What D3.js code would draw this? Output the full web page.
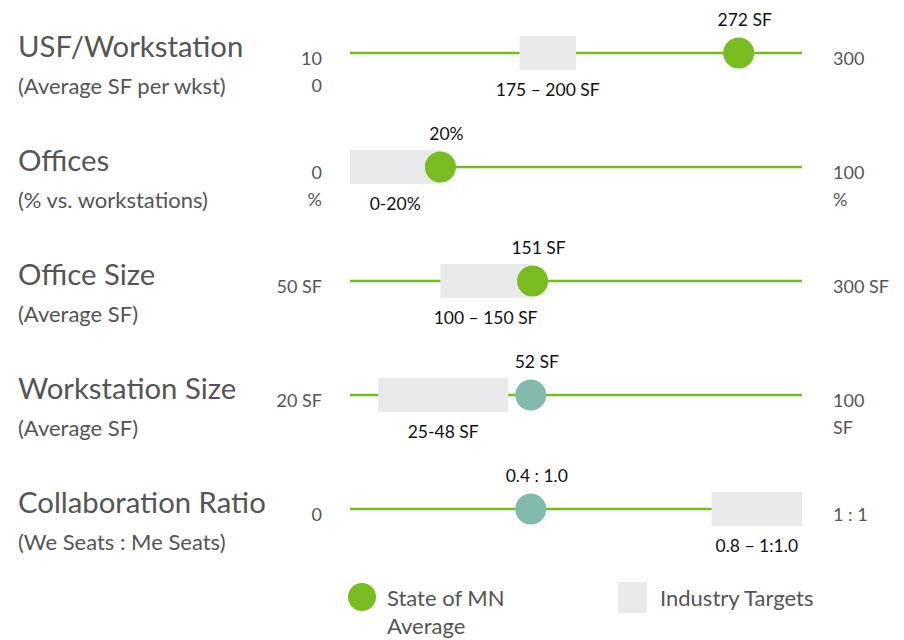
<!DOCTYPE html>
<html>
<head>
<meta charset="utf-8">
<script src="https://cdn.jsdelivr.net/npm/d3@7"></script>
<style>
  html, body { margin: 0; padding: 0; background: #fff; }
  svg { display: block; font-family: Lato, "Open Sans", sans-serif; }
</style>
</head>
<body>
<svg id="chart" width="904" height="640"></svg>
<script>
// ---- data ----
const metrics = ["USF/Workstation", "Offices", "Office Size", "Workstation Size", "Collaboration Ratio"];
const subtitles = ["(Average SF per wkst)", "(% vs. workstations)", "(Average SF)", "(Average SF)", "(We Seats : Me Seats)"];
const axisMin = [100, 0, 50, 20, 0];
const axisMax = [300, 100, 300, 100, 1];
const minLabels = [["10", "0"], ["0", "%"], ["50 SF"], ["20 SF"], ["0"]];
const maxLabels = [["300"], ["100", "%"], ["300 SF"], ["100", "SF"], ["1 : 1"]];
const stateValues = [272, 20, 151, 52, 0.4];
const stateLabels = ["272 SF", "20%", "151 SF", "52 SF", "0.4 : 1.0"];
const targetLow = [175, 0, 100, 25, 0.8];
const targetHigh = [200, 20, 150, 48, 1.0];
const targetLabels = ["175 – 200 SF", "0-20%", "100 – 150 SF", "25-48 SF", "0.8 – 1:1.0"];
const legendLabels = [["State of MN", "Average"], ["Industry Targets"]];

// ---- styles ----
const GREEN = "#78bc22";
const TEAL = "#82bbad";
const BAND = "#e8e9eb";
const dotColors = [GREEN, GREEN, GREEN, TEAL, TEAL];

const svg = d3.select("#chart");

const y = d3.scalePoint().domain(metrics).range([53, 509]);
const xRange = [350, 802];

const rows = metrics.map((m, i) => ({
  metric: m, sub: subtitles[i], min: axisMin[i], max: axisMax[i],
  minL: minLabels[i], maxL: maxLabels[i], v: stateValues[i], vL: stateLabels[i],
  lo: targetLow[i], hi: targetHigh[i], tL: targetLabels[i], color: dotColors[i],
  x: d3.scaleLinear().domain([axisMin[i], axisMax[i]]).range(xRange)
}));

const g = svg.selectAll("g.row").data(rows).join("g")
  .attr("class", "row")
  .attr("transform", d => `translate(0,${y(d.metric)})`);

// titles
g.append("text").attr("x", 18).attr("y", 4)
  .attr("font-size", 29.3).attr("fill", "#555").text(d => d.metric);
g.append("text").attr("x", 18).attr("y", 41)
  .attr("font-size", 22).attr("fill", "#555").text(d => d.sub);

// line
g.append("line")
  .attr("x1", d => d.x(d.min)).attr("x2", d => d.x(d.max))
  .attr("y1", 0).attr("y2", 0)
  .attr("stroke", GREEN).attr("stroke-width", 2.5);

// target band
g.append("rect")
  .attr("x", d => d.x(d.lo)).attr("width", d => d.x(d.hi) - d.x(d.lo))
  .attr("y", -17).attr("height", 34).attr("fill", BAND);

// band label
g.append("text")
  .attr("x", d => (d.x(d.lo) + d.x(d.hi)) / 2).attr("y", 43)
  .attr("text-anchor", "middle").attr("font-size", 17.5).attr("fill", "#111")
  .text(d => d.tL);

// state dot
g.append("circle")
  .attr("cx", d => d.x(d.v)).attr("cy", 0).attr("r", 15.5)
  .attr("fill", d => d.color);

g.append("text")
  .attr("x", d => d.x(d.v) + 6).attr("y", -27)
  .attr("text-anchor", "middle").attr("font-size", 17.5).attr("fill", "#111")
  .text(d => d.vL);

// axis end labels
g.each(function(d) {
  const sel = d3.select(this);
  d.minL.forEach((t, k) => {
    sel.append("text").attr("x", 322).attr("y", 12 + k * 27)
      .attr("text-anchor", "end").attr("font-size", 18).attr("fill", "#555").text(t);
  });
  d.maxL.forEach((t, k) => {
    sel.append("text").attr("x", 833).attr("y", 12 + k * 27)
      .attr("text-anchor", "start").attr("font-size", 18).attr("fill", "#555").text(t);
  });
});

// legend
const lg = svg.append("g").attr("transform", "translate(0,597)");
lg.append("circle").attr("cx", 362).attr("cy", 0).attr("r", 14).attr("fill", GREEN);
legendLabels[0].forEach((t, k) => {
  lg.append("text").attr("x", 387).attr("y", 9 + k * 28)
    .attr("font-size", 22).attr("fill", "#555").text(t);
});
lg.append("rect").attr("x", 618).attr("y", -15).attr("width", 29).attr("height", 31).attr("fill", BAND);
legendLabels[1].forEach((t, k) => {
  lg.append("text").attr("x", 660).attr("y", 9 + k * 28)
    .attr("font-size", 22).attr("fill", "#555").text(t);
});
</script>
</body>
</html>
